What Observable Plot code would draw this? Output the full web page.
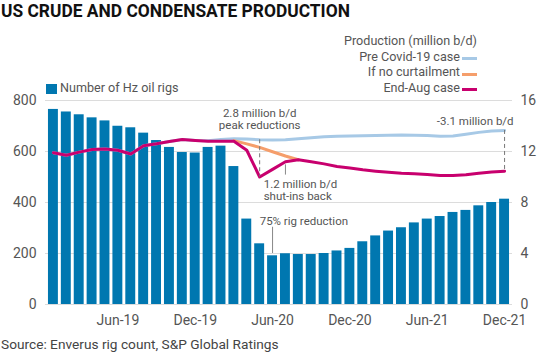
<!DOCTYPE html>
<html><head><meta charset="utf-8">
<script src="https://cdn.jsdelivr.net/npm/d3@7"></script>
<script src="https://cdn.jsdelivr.net/npm/@observablehq/plot@0.6"></script>
<style>
body{margin:0;background:#fff;}
#wrap{position:relative;width:560px;height:358px;overflow:hidden;font-family:Roboto,sans-serif;color:#555;}
.abs{position:absolute;white-space:nowrap;line-height:1;}
#title{left:1px;top:0;font-family:Roboto,sans-serif;font-weight:bold;font-size:18.6px;line-height:22px;color:#111;transform:scaleX(0.935);transform-origin:0 0;}
.leg{font-size:12.6px;text-align:right;}
.sw{position:absolute;width:15px;height:3px;}
#chart{position:absolute;left:0;top:0;}
</style></head><body>
<div id="wrap">
  <div id="chart"></div>
  <div class="abs" id="title">US CRUDE AND CONDENSATE PRODUCTION</div>
  <div class="abs leg" style="right:83px;top:35.3px;">Production (million b/d)</div>
  <div class="abs leg" style="right:100px;top:50.8px;">Pre Covid-19 case</div>
  <div class="sw" style="left:462px;top:57px;background:#a7c9e6;"></div>
  <div class="abs leg" style="right:100px;top:66.3px;">If no curtailment</div>
  <div class="sw" style="left:462px;top:72.5px;background:#f59e6b;"></div>
  <div class="abs leg" style="right:100px;top:81.8px;">End-Aug case</div>
  <div class="sw" style="left:462px;top:88px;background:#c8006e;"></div>
  <div class="sw" style="left:46px;top:84px;width:11px;height:10px;background:#0077b0;"></div>
  <div class="abs leg" style="left:60px;top:82.3px;text-align:left;">Number of Hz oil rigs</div>
  <div class="abs" style="left:1px;top:338.4px;font-size:13.7px;color:#444;">Source: Enverus rig count, S&amp;P Global Ratings</div>
</div>
<script>
const months = ["Jan-19","Feb-19","Mar-19","Apr-19","May-19","Jun-19","Jul-19","Aug-19","Sep-19","Oct-19","Nov-19","Dec-19",
  "Jan-20","Feb-20","Mar-20","Apr-20","May-20","Jun-20","Jul-20","Aug-20","Sep-20","Oct-20","Nov-20","Dec-20",
  "Jan-21","Feb-21","Mar-21","Apr-21","May-21","Jun-21","Jul-21","Aug-21","Sep-21","Oct-21","Nov-21","Dec-21"];
const rigs = [765,755,744,732,720,699,693,672,643,616,596,594,
  616,621,541,335,238,191,199,196,196,200,210,220,
  246,269,288,301,320,335,345,361,369,387,400,413];
const endAug = [11.9,11.7,11.95,12.15,12.2,12.1,11.8,12.45,12.6,12.78,12.94,12.86,
  12.8,12.8,12.8,12.1,10.0,10.6,11.2,11.35,11.2,11.03,10.82,10.7,
  10.56,10.46,10.38,10.3,10.25,10.2,10.12,10.12,10.17,10.3,10.4,10.46];
const preCovid = [11.9,11.7,11.95,12.15,12.2,12.1,11.8,12.45,12.6,12.78,12.94,12.86,
  12.85,12.95,13.0,12.98,12.92,12.9,12.93,13.0,13.08,13.15,13.2,13.22,
  13.24,13.26,13.28,13.3,13.28,13.25,13.2,13.22,13.35,13.5,13.6,13.65];
const noCurtail = [null,null,null,null,null,null,null,null,null,null,null,null,
  null,null,12.85,12.6,12.32,11.98,11.65,11.35,null,null,null,null,
  null,null,null,null,null,null,null,null,null,null,null,null];
const xTicks = ["Jun-19","Dec-19","Jun-20","Dec-20","Jun-21","Dec-21"];
const leftTicks = [0,200,400,600,800];
const rightTicks = [0,4,8,12,16];
const K = 50; // right axis (million b/d) -> left axis units
const notes = [
  {i:16, v:728, text:"2.8 million b/d\npeak reductions", anchor:"middle", dx:0},
  {i:16, v:449, text:"1.2 million b/d\nshut-ins back", anchor:"start", dx:4},
  {i:16, v:327, text:"75% rig reduction", anchor:"start", dx:0},
  {i:35, v:720, text:"-3.1 million b/d", anchor:"end", dx:9}
];
const dashedAt = [16, 35];
const connectors = [ {i:18, v1:10.95*K, v2:10.15*K}, {i:17, v1:200, v2:303} ];

const rows = months.map((m,i)=>({month:m, rigs:rigs[i], pre:preCovid[i], noc:noCurtail[i], aug:endAug[i]}));
const chart = Plot.plot({
  width:560, height:358,
  marginTop:100, marginBottom:54, marginLeft:45, marginRight:48,
  style:{fontFamily:"Roboto, sans-serif", fontSize:"14px", color:"#555", background:"transparent"},
  x:{type:"band", domain:months, padding:0.23, label:null},
  y:{domain:[0,800], label:null},
  marks:[
    Plot.gridY(leftTicks, {stroke:"#dcdcdc", strokeOpacity:1}),
    Plot.barY(rows, {x:"month", y:"rigs", fill:"#0077b0"}),
    Plot.line(rows, {x:"month", y:d=>d.pre*K, stroke:"#a7c9e6", strokeWidth:3}),
    Plot.line(rows.filter(d=>d.noc!=null), {x:"month", y:d=>d.noc*K, stroke:"#f59e6b", strokeWidth:3}),
    Plot.line(rows, {x:"month", y:d=>d.aug*K, stroke:"#c8006e", strokeWidth:3}),
    Plot.ruleX(dashedAt, {x:i=>months[i], y1:i=>preCovid[i]*K, y2:i=>endAug[i]*K, stroke:"#777", strokeWidth:1, strokeDasharray:"4,3"}),
    Plot.ruleX(connectors, {x:d=>months[d.i], y1:"v1", y2:"v2", stroke:"#888", strokeWidth:1}),
    Plot.axisX(xTicks, {tickSize:0, tickPadding:11, fontSize:14, label:null}),
    Plot.axisY(leftTicks, {anchor:"left", tickSize:0, tickPadding:9, fontSize:14, label:null}),
    Plot.axisY(rightTicks.map(v=>v*K), {anchor:"right", tickSize:0, tickPadding:8, fontSize:14, tickFormat:d=>d/K, label:null}),
    ...notes.map(n=>Plot.text([n], {x:d=>months[d.i], y:"v", text:"text", textAnchor:n.anchor, dx:n.dx, fontSize:11.5, lineHeight:1.1, fill:"#555"}))
  ]
});
document.getElementById("chart").appendChild(chart);
</script>
</body></html>
